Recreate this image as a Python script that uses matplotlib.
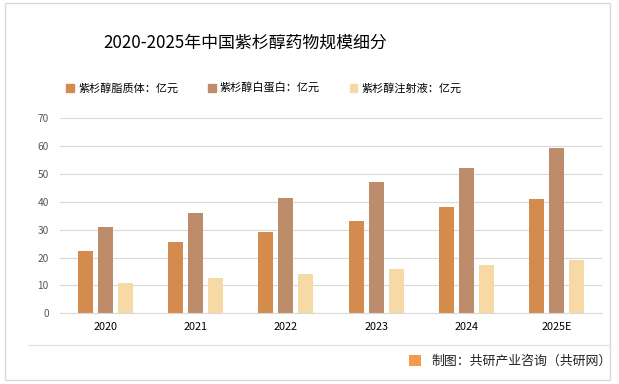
import matplotlib
matplotlib.use('Agg')
import numpy as np
from matplotlib import pyplot as plt
from matplotlib.patches import Rectangle, Patch
from matplotlib.lines import Line2D

plt.rcParams['font.family'] = ['Noto Sans CJK SC', 'DejaVu Sans']

years = ['2020', '2021', '2022', '2023', '2024', '2025E']
liposome = [22.4, 25.6, 29.2, 33.1, 38.2, 41.0]
albumin = [31.0, 36.0, 41.4, 47.1, 52.2, 59.4]
injection = [10.9, 12.7, 14.1, 15.9, 17.4, 19.2]
names = ['紫杉醇脂质体：亿元', '紫杉醇白蛋白：亿元', '紫杉醇注射液：亿元']
colors = ['#D48B4E', '#BC8C6B', '#F7D9A5']

fig = plt.figure(figsize=(6.19, 3.84), dpi=100)
ax = fig.add_axes([60/619, 1-313.3/384, 542/619, 195/384])

x = np.arange(len(years))
w = 0.167
step = 0.222
for i, vals in enumerate([liposome, albumin, injection]):
    ax.bar(x + (i-1)*step, vals, width=w, color=colors[i], zorder=2)

ax.set_xlim(-0.5, len(years)-0.5)
ax.set_ylim(0, 70)
ax.set_yticks(range(0, 71, 10))
ax.set_xticks(x)
ax.set_xticklabels(years, fontsize=7.8, color='#000000')
ax.tick_params(axis='y', labelsize=7.3, colors='#555555', length=0, pad=8)
ax.tick_params(axis='x', length=0, pad=6)
ax.grid(axis='y', color='#d9d9d9', linewidth=0.8, zorder=0)
for s in ['top', 'right', 'left']:
    ax.spines[s].set_visible(False)
ax.spines['bottom'].set_color('#d9d9d9')

fig.text(245/619, 1-43/384, '2020-2025年中国紫杉醇药物规模细分', fontsize=12.2,
         ha='center', va='center', color='#000000')

handles = [Patch(color=c) for c in colors]
fig.legend(handles, names, ncol=3, loc='center left', bbox_to_anchor=(56/619, 1-88/384),
           frameon=False, fontsize=8, handlelength=0.7, handleheight=0.7,
           handletextpad=0.4, columnspacing=2.65)

# outer border and footer
fig.patches.append(Rectangle((5/619, 4/384), 605/619, 377/384, transform=fig.transFigure,
                             fill=False, edgecolor='#d9d9d9', linewidth=1))
fig.lines.append(Line2D([28/619, 610/619], [1-345/384, 1-345/384], transform=fig.transFigure,
                        color='#e0e0e0', linewidth=0.8))
fig.patches.append(Rectangle((409/619, 1-366/384), 12/619, 11/384, transform=fig.transFigure,
                             facecolor='#F29B4A', edgecolor='none'))
fig.text(431/619, 1-361/384, '制图：共研产业咨询（共研网）', fontsize=9.3,
         ha='left', va='center', color='#222222')

fig.savefig('out.png', dpi=100)
